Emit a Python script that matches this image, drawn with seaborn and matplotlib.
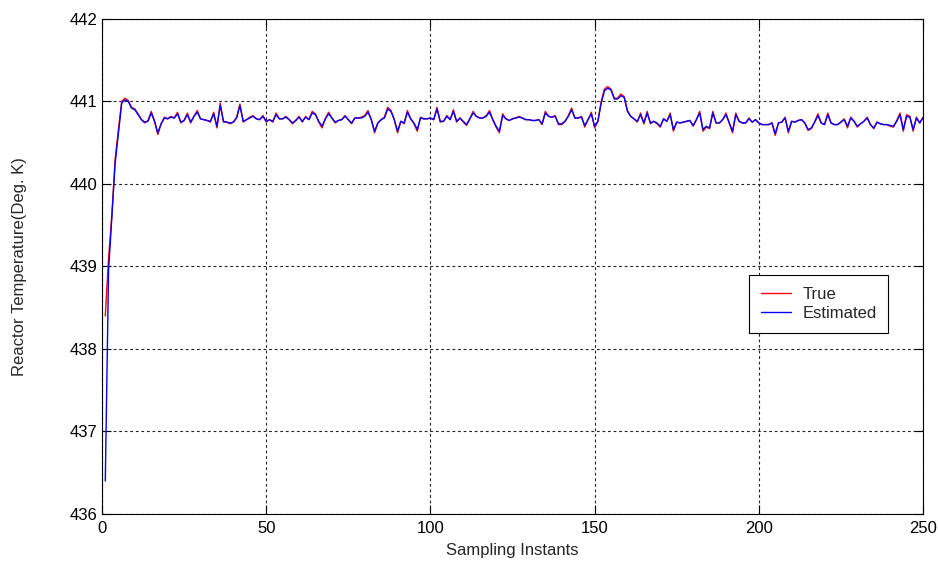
import numpy as np
import pandas as pd
import matplotlib
matplotlib.use("Agg")
import matplotlib.pyplot as plt
import seaborn as sns

# Sampling instants 1..250
instants = list(range(1, 251))

true_temp = [
    438.40, 439.10, 439.62, 440.30, 440.66, 441.00, 441.04, 441.01, 440.93, 440.91,
    440.85, 440.78, 440.74, 440.77, 440.88, 440.76, 440.60, 440.73, 440.81, 440.79,
    440.82, 440.80, 440.87, 440.74, 440.77, 440.86, 440.74, 440.82, 440.89, 440.79,
    440.78, 440.77, 440.75, 440.87, 440.68, 440.98, 440.75, 440.75, 440.73, 440.75,
    440.81, 440.97, 440.75, 440.78, 440.81, 440.83, 440.79, 440.78, 440.83, 440.75,
    440.78, 440.75, 440.86, 440.79, 440.79, 440.82, 440.78, 440.73, 440.77, 440.82,
    440.75, 440.82, 440.78, 440.88, 440.85, 440.75, 440.68, 440.79, 440.87, 440.80,
    440.74, 440.77, 440.78, 440.83, 440.78, 440.73, 440.80, 440.80, 440.81, 440.83,
    440.89, 440.78, 440.62, 440.74, 440.78, 440.81, 440.93, 440.89, 440.78, 440.62,
    440.76, 440.73, 440.89, 440.79, 440.73, 440.64, 440.81, 440.79, 440.79, 440.80,
    440.78, 440.93, 440.75, 440.76, 440.83, 440.78, 440.90, 440.75, 440.80, 440.75,
    440.71, 440.79, 440.88, 440.82, 440.80, 440.80, 440.83, 440.89, 440.78, 440.69,
    440.62, 440.85, 440.79, 440.77, 440.79, 440.80, 440.82, 440.80, 440.78, 440.78,
    440.77, 440.77, 440.78, 440.72, 440.88, 440.82, 440.81, 440.83, 440.72, 440.72,
    440.76, 440.83, 440.92, 440.80, 440.80, 440.82, 440.69, 440.78, 440.87, 440.68,
    440.76, 441.00, 441.15, 441.18, 441.15, 441.04, 441.04, 441.09, 441.06, 440.89,
    440.82, 440.79, 440.75, 440.86, 440.73, 440.88, 440.73, 440.76, 440.73, 440.69,
    440.79, 440.76, 440.86, 440.64, 440.75, 440.74, 440.75, 440.76, 440.77, 440.70,
    440.78, 440.88, 440.64, 440.69, 440.67, 440.88, 440.74, 440.74, 440.78, 440.86,
    440.74, 440.62, 440.86, 440.76, 440.74, 440.74, 440.80, 440.75, 440.78, 440.74,
    440.72, 440.72, 440.72, 440.74, 440.59, 440.74, 440.75, 440.81, 440.62, 440.76,
    440.75, 440.77, 440.78, 440.74, 440.65, 440.67, 440.75, 440.85, 440.74, 440.72,
    440.86, 440.74, 440.72, 440.72, 440.75, 440.79, 440.68, 440.81, 440.76, 440.69,
    440.73, 440.76, 440.81, 440.72, 440.67, 440.75, 440.73, 440.72, 440.72, 440.70,
    440.69, 440.77, 440.86, 440.64, 440.84, 440.82, 440.64, 440.81, 440.74, 440.81,
]

estimated_temp = [
    436.40, 438.95, 439.60, 440.25, 440.62, 440.98, 441.02, 441.00, 440.92, 440.90,
    440.84, 440.78, 440.75, 440.76, 440.86, 440.76, 440.62, 440.73, 440.80, 440.79,
    440.81, 440.80, 440.85, 440.75, 440.77, 440.84, 440.75, 440.82, 440.87, 440.79,
    440.78, 440.77, 440.76, 440.85, 440.70, 440.95, 440.76, 440.75, 440.74, 440.75,
    440.80, 440.95, 440.76, 440.78, 440.80, 440.82, 440.79, 440.78, 440.82, 440.76,
    440.78, 440.76, 440.84, 440.79, 440.79, 440.81, 440.78, 440.74, 440.77, 440.81,
    440.76, 440.81, 440.78, 440.86, 440.84, 440.76, 440.70, 440.79, 440.85, 440.80,
    440.75, 440.77, 440.78, 440.82, 440.78, 440.74, 440.80, 440.80, 440.80, 440.82,
    440.87, 440.78, 440.64, 440.74, 440.78, 440.80, 440.91, 440.88, 440.78, 440.64,
    440.76, 440.74, 440.87, 440.79, 440.74, 440.66, 440.80, 440.79, 440.79, 440.80,
    440.78, 440.91, 440.76, 440.76, 440.82, 440.78, 440.88, 440.76, 440.80, 440.76,
    440.72, 440.79, 440.86, 440.82, 440.80, 440.80, 440.82, 440.87, 440.78, 440.70,
    440.64, 440.83, 440.79, 440.77, 440.79, 440.80, 440.81, 440.80, 440.78, 440.78,
    440.77, 440.77, 440.78, 440.73, 440.86, 440.82, 440.81, 440.82, 440.73, 440.73,
    440.76, 440.82, 440.90, 440.80, 440.80, 440.81, 440.71, 440.78, 440.85, 440.70,
    440.76, 440.98, 441.13, 441.16, 441.14, 441.03, 441.03, 441.07, 441.05, 440.88,
    440.82, 440.79, 440.76, 440.84, 440.74, 440.86, 440.74, 440.76, 440.74, 440.70,
    440.79, 440.76, 440.84, 440.66, 440.75, 440.74, 440.75, 440.76, 440.77, 440.71,
    440.78, 440.86, 440.66, 440.70, 440.68, 440.86, 440.74, 440.74, 440.78, 440.84,
    440.74, 440.64, 440.84, 440.76, 440.74, 440.74, 440.79, 440.75, 440.78, 440.74,
    440.72, 440.72, 440.72, 440.74, 440.61, 440.74, 440.75, 440.80, 440.64, 440.76,
    440.75, 440.77, 440.78, 440.74, 440.66, 440.68, 440.75, 440.83, 440.74, 440.72,
    440.84, 440.74, 440.72, 440.72, 440.75, 440.78, 440.70, 440.80, 440.76, 440.70,
    440.73, 440.76, 440.80, 440.72, 440.68, 440.75, 440.73, 440.72, 440.72, 440.71,
    440.70, 440.76, 440.84, 440.66, 440.82, 440.81, 440.66, 440.80, 440.74, 440.80,
]

x_ticks = [0, 50, 100, 150, 200, 250]
y_ticks = [436, 437, 438, 439, 440, 441, 442]

sns.set_style("white")
plt.rcParams["font.family"] = ["Liberation Sans", "DejaVu Sans"]
plt.rcParams["font.size"] = 12

df = pd.DataFrame({"instant": instants, "True": true_temp, "Estimated": estimated_temp})

fig = plt.figure(figsize=(9.38, 5.65), dpi=100)
ax = fig.add_axes([102 / 938, 51 / 565, 821 / 938, 495 / 565])

sns.lineplot(data=df, x="instant", y="True", ax=ax, color="#ff0000",
             linewidth=1.0, label="True")
sns.lineplot(data=df, x="instant", y="Estimated", ax=ax, color="#0000ff",
             linewidth=1.0, label="Estimated")

ax.set_xlim(0, 250)
ax.set_ylim(436, 442)
ax.set_xticks(x_ticks)
ax.set_yticks(y_ticks)
ax.set_xticklabels([str(t) for t in x_ticks])
ax.set_yticklabels([str(t) for t in y_ticks])

ax.grid(True, color="#222222", linestyle=(0, (2.5, 2.5)), linewidth=0.8)
ax.set_axisbelow(True)

for sp in ax.spines.values():
    sp.set_visible(True)
    sp.set_color("black")
    sp.set_linewidth(0.8)

ax.tick_params(axis="both", which="major", direction="in", length=6.5, width=0.8,
               top=True, right=True, bottom=True, left=True,
               labelsize=12, colors="black")
ax.tick_params(axis="x", pad=5)
ax.tick_params(axis="y", pad=3)

ax.set_xlabel("Sampling Instants", fontsize=12)
ax.set_ylabel("Reactor Temperature(Deg. K)", fontsize=12)
ax.xaxis.set_label_coords(0.5, -0.058)
ax.yaxis.set_label_coords(-0.091, 0.5)

leg = ax.legend(loc="upper left", bbox_to_anchor=((749 - 102) / 821, (514 - 275) / 495),
                borderaxespad=0, frameon=True, fancybox=False, fontsize=12,
                handlelength=1.8, handletextpad=0.7, borderpad=0.7, labelspacing=0.25)
leg.get_frame().set_edgecolor("black")
leg.get_frame().set_linewidth(0.8)
leg.get_frame().set_alpha(1.0)

fig.savefig("out.png", dpi=100, facecolor="white")
